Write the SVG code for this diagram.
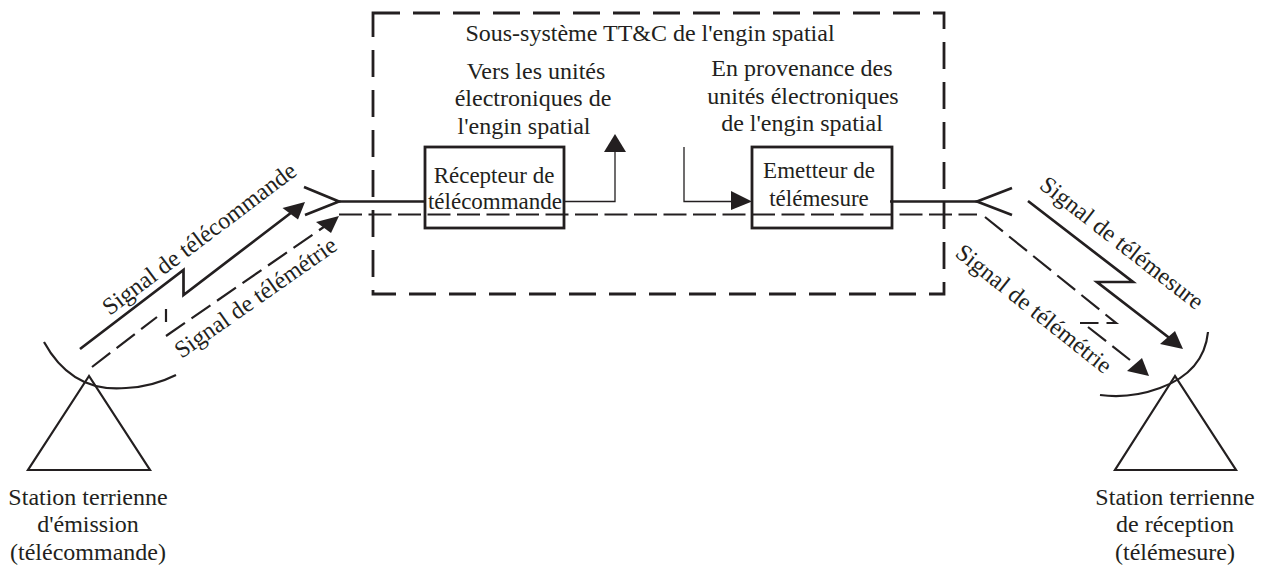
<svg xmlns="http://www.w3.org/2000/svg" width="1263" height="565" viewBox="0 0 1263 565">
<style>
text{font-family:"Liberation Serif","Times New Roman",serif;font-size:24px;fill:#231f20;text-anchor:middle}
text.m{font-size:23px}
.s{fill:none;stroke:#231f20;stroke-width:2.2}
.w{fill:none;stroke:#231f20;stroke-width:2.7}
.b{fill:none;stroke:#231f20;stroke-width:2.8}
.t{fill:none;stroke:#231f20;stroke-width:1.3}
.d{fill:none;stroke:#231f20;stroke-width:2;stroke-dasharray:23 6.5}
.d2{fill:none;stroke:#231f20;stroke-width:2.2;stroke-dasharray:23 8}
.bd{fill:none;stroke:#231f20;stroke-width:2.8;stroke-dasharray:27 13}
.a{fill:#231f20;stroke:none}
</style>
<rect width="1263" height="565" fill="#fff"/>
<g id="subsystem">
<rect class="bd" x="373" y="13" width="571" height="281"/>
<text x="650" y="41">Sous-système TT&amp;C de l'engin spatial</text>
<text x="536" y="79">Vers les unités</text>
<text x="533" y="106">électroniques de</text>
<text x="524" y="134">l'engin spatial</text>
<text x="802" y="76">En provenance des</text>
<text x="803" y="104">unités électroniques</text>
<text x="802" y="131">de l'engin spatial</text>
</g>
<g id="connectors">
<path class="w" d="M339 201.5H425M890 201.5H977"/>
<path class="d" d="M339 214.500H977"/>
<path class="t" d="M564 201.500H615V150"/>
<polygon class="a" points="615,134 604,152 626,152"/>
<path class="t" d="M684 147V201.500H735"/>
<polygon class="a" points="752,201.500 731,191 731,210"/>
<path class="w" d="M304 187L339 201.500L305 215"/>
<path class="w" d="M1012 188L977 201.500L1012 215"/>
<path class="w" d="M80 349L183.500 270V295L296 209"/>
<polygon class="a" points="305,202 282.500,208 298,219.500"/>
<path class="d2" d="M92 367L157 317M166 309V322M166 336L331 222"/>
<polygon class="a" points="339,216 316,222 331,233"/>
<path class="w" d="M1028 201L1133 282H1097L1172 340"/>
<polygon class="a" points="1183,349 1160,344 1175,331"/>
<path class="d2" d="M985 217L1116 323H1080M1088 327L1130 360"/>
<polygon class="a" points="1149,376 1127,371 1142,358"/>
</g>
<g id="receiver">
<rect class="b" x="425" y="147" width="139" height="81"/>
<text class="m" x="494" y="183">Récepteur de</text>
<text class="m" x="495" y="209">télécommande</text>
</g>
<g id="transmitter">
<rect class="b" x="752" y="147" width="140" height="81"/>
<text class="m" x="819" y="178">Emetteur de</text>
<text class="m" x="819" y="206">télémesure</text>
</g>
<g id="station-emission">
<path class="s" d="M44 342Q72 393 126 388Q152 387 176 375"/>
<path class="s" d="M89 376L28 470H150Z"/>
<text x="88" y="505">Station terrienne</text>
<text x="88" y="532">d'émission</text>
<text x="88" y="560">(télécommande)</text>
</g>
<g id="station-reception">
<path class="s" d="M1208 332Q1204 372 1160 388Q1130 399 1100 395"/>
<path class="s" d="M1175 376L1115 470H1236Z"/>
<text x="1175" y="505">Station terrienne</text>
<text x="1175" y="532">de réception</text>
<text x="1175" y="560">(télémesure)</text>
</g>
<g id="signal-labels">
<text transform="translate(204 245) rotate(-37)">Signal de télécommande</text>
<text transform="translate(260 304) rotate(-35)">Signal de télémétrie</text>
<text transform="translate(1117 249) rotate(38)">Signal de télémesure</text>
<text transform="translate(1029 315) rotate(38.500)">Signal de télémétrie</text>
</g>
</svg>
